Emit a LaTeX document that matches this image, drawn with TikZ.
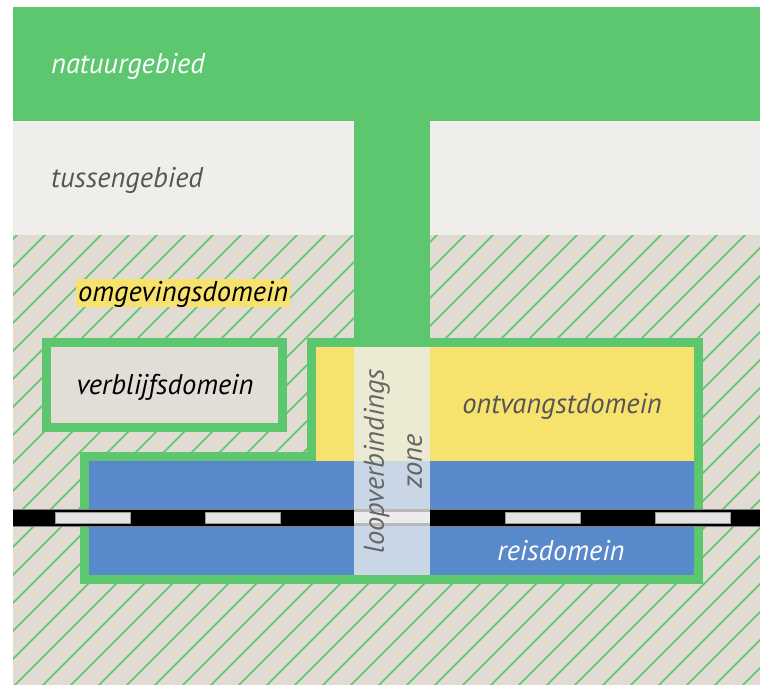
\documentclass[tikz,border=0pt]{standalone}
\usepackage{fontspec}
\setmainfont{PT Sans}
\definecolor{grn}{HTML}{5CC76F}
\definecolor{tussen}{HTML}{F0EEEA}
\definecolor{hatchbg}{HTML}{E1DBD4}
\definecolor{verbl}{HTML}{E2DDD7}
\definecolor{yel}{HTML}{F7E26E}
\definecolor{blu}{HTML}{5889CB}
\definecolor{zoneY}{HTML}{EDEAD3}
\definecolor{zoneB}{HTML}{C9D6E6}
\definecolor{dashc}{HTML}{E3E3E3}
\definecolor{txtgray}{HTML}{555555}
\tikzset{
  lbl/.style={font=\fontsize{28.5}{38}\selectfont\itshape, inner sep=0pt},
  frameline/.style={draw=grn, line width=9pt, line join=miter},
  dashbox/.style={fill=dashc, draw=gray!80, line width=0.8pt},
}
\begin{document}
\begin{tikzpicture}[x=1pt,y=-1pt]
\useasboundingbox (0,0) rectangle (760,685);
% bands
\fill[grn] (13,7) rectangle (760,121);
\fill[tussen] (13,121) rectangle (760,235);
\fill[hatchbg] (13,235) rectangle (760,685);
\begin{scope}
  \clip (13,235) rectangle (760,685);
  \foreach \x in {-448,-420,...,760} \draw[grn, line width=1.7pt] (\x,700) -- ++(480,-480);
\end{scope}
% stem
\fill[grn] (354,121) rectangle (430,347);
% verblijfsdomein box
\draw[frameline, fill=verbl] (46.5,342.5) rectangle (282.5,427.5);
% ontvangst + reis
\fill[blu] (89,461) rectangle (694,575);
\fill[yel] (316,347) rectangle (694,461);
\draw[frameline] (84.5,456.5) -- (311.5,456.5) -- (311.5,342.5) -- (698.5,342.5) -- (698.5,579.5) -- (84.5,579.5) -- cycle;
% track
\fill[black] (13,509) rectangle (760,526);
\draw[gray, line width=0.6pt] (13,509) -- (760,509) (13,526) -- (760,526);
\foreach \x in {55,205,505,655} \draw[dashbox] (\x,512) rectangle ++(75,11);
% loopverbindingszone
\fill[zoneY] (354,347) rectangle (430,461);
\fill[zoneB] (354,461) rectangle (430,575);
\fill[gray!55] (354,509) rectangle (430,526);
\fill[gray!15] (354,512) rectangle (430,523);
% labels
\node[lbl, white, anchor=base west] (natuur) at (51,74) {natuurgebied};
\node[lbl, txtgray, anchor=base west] (tussen) at (51,187) {tussengebied};
\node[lbl, black, anchor=base west, fill=yel, text height=22pt, text depth=6pt, inner xsep=2pt] (omgeving) at (76,301) {omgevingsdomein};
\node[lbl, black, anchor=base] (verblijf) at (165,394) {verblijfsdomein};
\node[lbl, txtgray, anchor=base] (ontvangst) at (562,413) {ontvangstdomein};
\node[lbl, white, anchor=base] (reis) at (561,560) {reisdomein};
\node[lbl, txtgray!90!white, rotate=90, align=center] (loop) at (393,461) {loopverbindings\\zone};
\end{tikzpicture}
\end{document}
